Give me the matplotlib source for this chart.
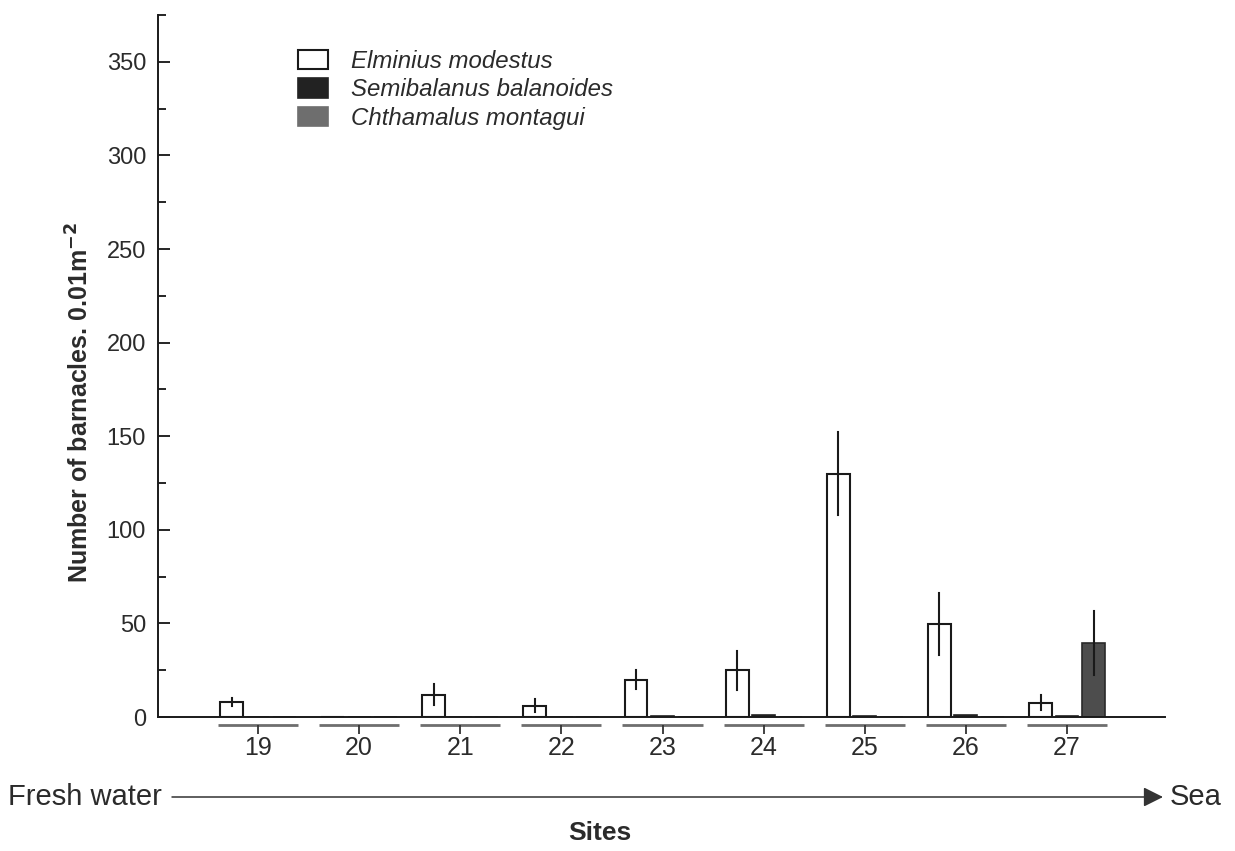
import numpy as np
import matplotlib
matplotlib.use('Agg')
import matplotlib.pyplot as plt

plt.rcParams['font.family'] = ['Liberation Sans', 'DejaVu Sans']
txt = '#2b2b2b'

# Data
sites = [19, 20, 21, 22, 23, 24, 25, 26, 27]
elminius = [8, 0, 12, 6, 20, 25, 130, 49.5, 7.5]
elminius_err = [2, 0, 5.5, 3.5, 5, 10.5, 22, 16.5, 4]
semibalanus = [0, 0, 0, 0, 0.3, 1, 0.3, 1, 0.5]
semibalanus_err = [0, 0, 0, 0, 0, 0, 0, 0, 0]
chthamalus = [0, 0, 0, 0, 0, 0, 0, 0, 39.5]
chthamalus_err = [0, 0, 0, 0, 0, 0, 0, 0, 17]
labels = ['Elminius modestus', 'Semibalanus balanoides', 'Chthamalus montagui']

x = np.array(sites, dtype=float)
w = 0.227
off = 0.262

fig = plt.figure(figsize=(12.35, 8.51), dpi=100)
ax = fig.add_axes([158 / 1235, 134 / 851, 1007 / 1235, 702 / 851])

b1 = ax.bar(x - off, elminius, w, color='white', edgecolor='#1a1a1a', lw=1.5, label=labels[0])
b2 = ax.bar(x, semibalanus, w, color='#222222', edgecolor='#222222', lw=1.2, label=labels[1])
b3 = ax.bar(x + off, chthamalus, w, color='#4d4d4d', edgecolor='#2a2a2a', lw=1.2, label=labels[2])

# error bars (no caps)
for xs, vals, errs in [(x - off, elminius, elminius_err), (x, semibalanus, semibalanus_err),
                       (x + off, chthamalus, chthamalus_err)]:
    for xi, v, e in zip(xs, vals, errs):
        if e > 0:
            ax.plot([xi, xi], [v - e, v + e], color='#1a1a1a', lw=1.5)

ax.set_xlim(18.011, 27.969)
ax.set_ylim(0, 375)

# group brackets and ticks under the axis
ax.hlines(np.full(len(x), -4.3), x - 0.396, x + 0.396, color='#6e6e6e', lw=2, clip_on=False)
ax.vlines(x, np.full(len(x), -4.3), np.full(len(x), -9.3), color='#333333', lw=1.3, clip_on=False)

ax.set_xticks(x)
ax.set_xticklabels([str(s) for s in sites])
ax.tick_params(axis='x', length=0, pad=14, labelsize=18, labelcolor=txt)

ax.set_yticks(np.arange(0, 351, 50))
ax.set_yticks(np.arange(25, 376, 50), minor=True)
ax.tick_params(axis='y', which='major', direction='in', length=8.6, width=1.2,
               pad=8.6, labelsize=17, labelcolor=txt)
ax.tick_params(axis='y', which='minor', direction='in', length=5.8, width=1.2)

for s in ['top', 'right']:
    ax.spines[s].set_visible(False)
for s in ['left', 'bottom']:
    ax.spines[s].set_linewidth(1.4)
    ax.spines[s].set_color('#1a1a1a')

fig.text(80 / 1235, 1 - 403 / 851, r'Number of barnacles. 0.01m$^{\mathbf{-2}}$',
         rotation=90, ha='center', va='center', fontsize=18, fontweight='bold', color=txt)

leg = ax.legend(handles=[b1, b2, b3], loc='upper left',
                bbox_to_anchor=(298 / 1235, 1 - 50 / 851), bbox_transform=fig.transFigure,
                frameon=False, prop={'style': 'italic', 'size': 17.3},
                handlelength=1.25, handleheight=0.85, handletextpad=0.95,
                labelspacing=0.22, borderpad=0, borderaxespad=0)
for t in leg.get_texts():
    t.set_color(txt)
leg.legend_handles[2].set_facecolor('#6e6e6e')
leg.legend_handles[2].set_edgecolor('#6e6e6e')

# fresh water -> sea arrow
ax.annotate('', xy=(1163, 54), xytext=(172, 54), xycoords='figure pixels',
            textcoords='figure pixels',
            arrowprops=dict(arrowstyle='-|>', lw=1.1, color='#333333', mutation_scale=30,
                            shrinkA=0, shrinkB=0))
fig.text(8 / 1235, 54 / 851, 'Fresh water', ha='left', va='center', fontsize=21, color=txt)
fig.text(1170 / 1235, 54 / 851, 'Sea', ha='left', va='center', fontsize=21, color=txt)
fig.text(600 / 1235, 1 - 833 / 851, 'Sites', ha='center', va='center', fontsize=19,
         fontweight='bold', color=txt)

fig.savefig('out.png', dpi=100)
